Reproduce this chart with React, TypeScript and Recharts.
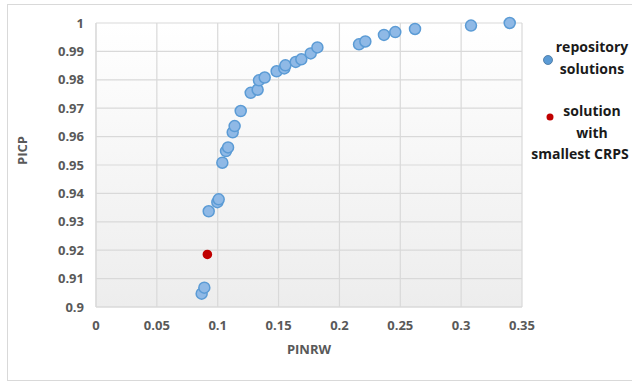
import { CartesianGrid, Scatter, ScatterChart, XAxis, YAxis } from 'recharts';

const pinrw = [
    0.0868, 0.089, 0.0926, 0.0997, 0.1008, 0.1038, 0.1068, 0.1085, 0.1123, 0.1139, 0.1189, 0.1271, 0.1328, 0.1339,
    0.1386, 0.1484, 0.1547, 0.1556, 0.1641, 0.1687, 0.1764, 0.1819, 0.2161, 0.2213, 0.2366, 0.2459, 0.2621, 0.3081,
    0.3399,
];
const picp = [
    0.9047, 0.9068, 0.9337, 0.9369, 0.9379, 0.9508, 0.9549, 0.9562, 0.9615, 0.9637, 0.969, 0.9754, 0.9765, 0.9798,
    0.9808, 0.983, 0.984, 0.9851, 0.9863, 0.9872, 0.9893, 0.9914, 0.9925, 0.9935, 0.9958, 0.9968, 0.9979, 0.9991,
    1.0,
];
const bestPinrw = [0.0915];
const bestPicp = [0.9185];
const xTicks = [0, 0.05, 0.1, 0.15, 0.2, 0.25, 0.3, 0.35];
const yTicks = [0.9, 0.91, 0.92, 0.93, 0.94, 0.95, 0.96, 0.97, 0.98, 0.99, 1];

const repoData = pinrw.map((x, i) => ({ x, y: picp[i] }));
const bestData = bestPinrw.map((x, i) => ({ x, y: bestPicp[i] }));

const font = "'Open Sans', Lato, sans-serif";

const BlueDot = (props: any) => (
    <circle cx={props.cx} cy={props.cy} r={5.5} fill="#8fb9e6" stroke="#5b9bd5" strokeWidth={1.5} />
);
const RedDot = (props: any) => <circle cx={props.cx} cy={props.cy} r={4.8} fill="#c00000" />;

// legend lines: [text, center y]
const legendLines: [string, number][] = [
    ['repository', 47],
    ['solutions', 69],
    ['solution', 111],
    ['with', 133],
    ['smallest CRPS', 154],
];

function LegendBox() {
    const txt = { fontFamily: font, fontWeight: 700, fontSize: 14, color: '#1a1a1a', lineHeight: '20px' };
    return (
        <div style={{ position: 'absolute', left: 0, top: 0, width: 632, height: 384 }}>
            <svg width={12} height={12} style={{ position: 'absolute', left: 542, top: 54 }}>
                <circle cx={6} cy={6} r={4.5} fill="#5b9bd5" stroke="#41719c" strokeWidth={0.8} />
            </svg>
            <svg width={10} height={10} style={{ position: 'absolute', left: 545, top: 112 }}>
                <circle cx={5} cy={5} r={3.5} fill="#c00000" />
            </svg>
            {legendLines.map(([t, y], i) => (
                <div
                    key={t}
                    style={{
                        ...txt,
                        position: 'absolute',
                        top: y - 10,
                        left: i === 4 ? 524 : 552,
                        width: i === 4 ? 112 : 80,
                        textAlign: 'center',
                        whiteSpace: 'nowrap',
                    }}
                >
                    {t}
                </div>
            ))}
        </div>
    );
}

export default function App() {
    return (
        <div style={{ position: 'absolute', left: 0, top: 0, width: 632, height: 384, background: '#fff', overflow: 'hidden' }}>
            <div
                style={{
                    position: 'absolute',
                    left: 7,
                    top: 4,
                    width: 640,
                    height: 377,
                    border: '1px solid #d9d9d9',
                    boxSizing: 'border-box',
                }}
            />
            <ScatterChart width={632} height={384} margin={{ top: 23, right: 110, left: 0, bottom: 0 }}>
                <defs>
                    <linearGradient id="plotBg" x1="0" y1="0" x2="0" y2="1">
                        <stop offset="0%" stopColor="#ffffff" />
                        <stop offset="100%" stopColor="#ededed" />
                    </linearGradient>
                </defs>
                <CartesianGrid stroke="#d9d9d9" strokeWidth={1.2} fill="url(#plotBg)" />
                <XAxis
                    type="number"
                    dataKey="x"
                    domain={[0, 0.35]}
                    ticks={xTicks}
                    height={77}
                    tickLine={false}
                    axisLine={{ stroke: '#d9d9d9' }}
                    tick={{ fill: '#595959', fontSize: 13, fontWeight: 700, fontFamily: font, dy: 6 }}
                    label={{
                        value: 'PINRW',
                        position: 'insideTop',
                        offset: 38,
                        fill: '#595959',
                        fontSize: 13,
                        fontWeight: 700,
                        fontFamily: font,
                    }}
                />
                <YAxis
                    type="number"
                    dataKey="y"
                    domain={[0.9, 1]}
                    ticks={yTicks}
                    width={96}
                    tickLine={false}
                    axisLine={{ stroke: '#d9d9d9' }}
                    tickFormatter={(v: number) => String(+v.toFixed(2))}
                    tick={{ fill: '#595959', fontSize: 13, fontWeight: 700, fontFamily: font, dx: -4 }}
                    label={{
                        value: 'PICP',
                        angle: -90,
                        position: 'insideLeft',
                        offset: 22,
                        fill: '#595959',
                        fontSize: 13,
                        fontWeight: 700,
                        fontFamily: font,
                    }}
                />
                <Scatter name="repository solutions" data={repoData} shape={BlueDot} isAnimationActive={false} />
                <Scatter name="solution with smallest CRPS" data={bestData} shape={RedDot} isAnimationActive={false} />
            </ScatterChart>
            <LegendBox />
        </div>
    );
}
